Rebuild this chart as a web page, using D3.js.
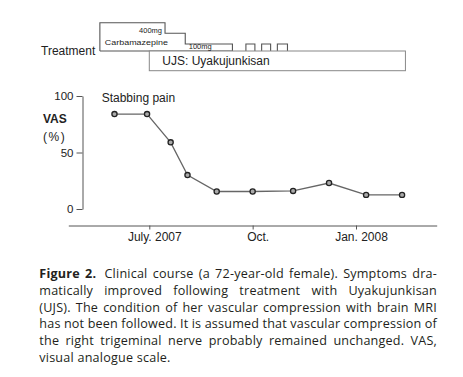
<!DOCTYPE html>
<html>
<head>
<meta charset="utf-8">
<script src="https://cdnjs.cloudflare.com/ajax/libs/d3/7.8.5/d3.min.js"></script>
<style>
body{margin:0;background:#fff;}
</style>
</head>
<body>
<svg id="chart"></svg>
<script>
let parse = d3.timeParse('%Y-%m-%d')

// VAS course
let dates = ['2007-05-31','2007-06-29','2007-07-20','2007-08-04','2007-08-30','2007-10-01','2007-11-06','2007-12-08','2008-01-10','2008-02-11']
let vas = [84, 84, 59, 30, 15.5, 15.5, 16, 23, 12.5, 12.5]
let tickDates = ['2007-07-01','2007-10-01','2008-01-01']
let tickLabels = ['July. 2007','Oct.','Jan. 2008']
let yTicks = [0, 50, 100]

// treatment
let cbzStarts = ['2007-05-18','2007-07-15','2007-08-02']
let cbzEnds = ['2007-07-15','2007-08-02','2007-09-13']
let cbzDose = [400, 250, 100]
let extraStarts = ['2007-09-25','2007-10-09','2007-10-23']
let extraEnds = ['2007-10-03','2007-10-17','2007-11-01']
let extraDose = [100, 100, 100]
let ujsPeriod = ['2007-07-01','2008-02-14']

let captionBold = 'Figure 2.'
let captionLines = [
  'Figure 2. Clinical course (a 72-year-old female). Symptoms dra-',
  'matically improved following treatment with Uyakujunkisan',
  '(UJS). The condition of her vascular compression with brain MRI',
  'has not been followed. It is assumed that vascular compression of',
  'the right trigeminal nerve probably remained unchanged. VAS,',
  'visual analogue scale.'
]

let width = 463
let height = 377
let svg = d3.select('#chart').attr('width', width).attr('height', height)
let font = '"Liberation Sans", Arial, sans-serif'

let xScale = d3.scaleTime()
  .domain([parse('2007-07-01'), parse('2008-01-01')])
  .range([149.3, 356])
let yScale = d3.scaleLinear().domain([0, 100]).range([209, 96])
let doseScale = d3.scaleLinear().domain([0, 400]).range([51, 22.7])
let base = doseScale(0)

// ---- treatment panel ----
let cbzPts = [[xScale(parse(cbzStarts[0])), base]]
cbzDose.forEach((d, i) => {
  cbzPts.push([xScale(parse(cbzStarts[i])), doseScale(d)])
  cbzPts.push([xScale(parse(cbzEnds[i])), doseScale(d)])
})
cbzPts.push([xScale(parse(cbzEnds[cbzEnds.length - 1])), base])
cbzPts.push(cbzPts[0])

svg.append('path')
  .attr('d', d3.line()(cbzPts))
  .attr('fill', 'none')
  .attr('stroke', '#555')
  .attr('stroke-width', 1.1)

svg.selectAll('.extra')
  .data(extraStarts)
  .enter()
  .append('path')
  .attr('class', 'extra')
  .attr('d', (s, i) => {
    let x1 = xScale(parse(s)), x2 = xScale(parse(extraEnds[i]))
    return d3.line()([[x1, base], [x1, doseScale(extraDose[i])], [x2, doseScale(extraDose[i])], [x2, base]])
  })
  .attr('fill', 'none')
  .attr('stroke', '#555')
  .attr('stroke-width', 1.1)

let ujsX0 = xScale(parse(ujsPeriod[0]))
let ujsX1 = xScale(parse(ujsPeriod[1]))
svg.append('rect')
  .attr('x', ujsX0)
  .attr('y', base)
  .attr('width', ujsX1 - ujsX0)
  .attr('height', 19.7)
  .attr('fill', '#fff')
  .attr('stroke', '#888')
  .attr('stroke-width', 1)

svg.append('text')
  .attr('x', ujsX0 + 13)
  .attr('y', base + 14)
  .attr('font-family', font)
  .attr('font-size', 12)
  .attr('fill', '#222')
  .text('UJS: Uyakujunkisan')

svg.append('text')
  .attr('x', 41)
  .attr('y', 55)
  .attr('font-family', font)
  .attr('font-size', 12)
  .attr('fill', '#222')
  .text('Treatment')

svg.append('text')
  .attr('x', xScale(parse(cbzEnds[0])) - 3)
  .attr('y', doseScale(cbzDose[0]) + 10.5)
  .attr('text-anchor', 'end')
  .attr('font-family', font)
  .attr('font-size', 7.5)
  .attr('fill', '#222')
  .text(cbzDose[0] + 'mg')

svg.append('text')
  .attr('x', xScale(parse(cbzStarts[0])) + 5)
  .attr('y', 44.7)
  .attr('font-family', font)
  .attr('font-size', 7)
  .attr('textLength', 63)
  .attr('lengthAdjust', 'spacingAndGlyphs')
  .attr('fill', '#222')
  .text('Carbamazepine')

svg.append('text')
  .attr('x', xScale(parse(cbzStarts[2])) + 3.5)
  .attr('y', 49.3)
  .attr('font-family', font)
  .attr('font-size', 7.5)
  .attr('fill', '#222')
  .text(cbzDose[2] + 'mg')

// ---- VAS chart ----
let xAxisScale = xScale.copy()
  .domain([xScale.invert(68.3), xScale.invert(436.7)])
  .range([68.3, 436.7])
let xAxis = d3.axisBottom(xAxisScale)
  .tickValues(tickDates.map(parse))
  .tickFormat((d, i) => tickLabels[i])
  .tickSize(4)
  .tickSizeOuter(0)
let gx = svg.append('g')
  .attr('transform', 'translate(0,225.5)')
  .call(xAxis)
gx.selectAll('text').attr('dx', 5).attr('font-size', 12).attr('font-family', font).attr('fill', '#222')
gx.selectAll('path,line').attr('stroke', '#555')

let yAxis = d3.axisLeft(yScale)
  .tickValues(yTicks)
  .tickSize(6)
  .tickSizeOuter(0)
let gy = svg.append('g')
  .attr('transform', 'translate(82.5,0)')
  .call(yAxis)
gy.selectAll('text').attr('font-size', 11.5).attr('font-family', font).attr('fill', '#222')
gy.selectAll('path,line').attr('stroke', '#555')

svg.append('text')
  .attr('x', 43)
  .attr('y', 122.5)
  .attr('font-family', font)
  .attr('font-size', 12)
  .attr('font-weight', 'bold')
  .attr('fill', '#222')
  .text('VAS')
svg.append('text')
  .attr('x', 43)
  .attr('y', 141)
  .attr('font-family', font)
  .attr('font-size', 12)
  .attr('letter-spacing', 1.5)
  .attr('fill', '#222')
  .text('(%)')

svg.append('text')
  .attr('x', 101.7)
  .attr('y', 101.5)
  .attr('font-family', font)
  .attr('font-size', 12)
  .attr('fill', '#222')
  .text('Stabbing pain')

let points = dates.map((d, i) => ({date: parse(d), value: vas[i]}))

svg.append('path')
  .datum(points)
  .attr('d', d3.line().x(d => xScale(d.date)).y(d => yScale(d.value)))
  .attr('fill', 'none')
  .attr('stroke', '#666')
  .attr('stroke-width', 1.3)

svg.selectAll('.dot')
  .data(points)
  .enter()
  .append('circle')
  .attr('class', 'dot')
  .attr('cx', d => xScale(d.date))
  .attr('cy', d => yScale(d.value))
  .attr('r', 2.6)
  .attr('fill', '#aaa')
  .attr('stroke', '#222')
  .attr('stroke-width', 1.3)

// ---- caption, justified word by word ----
let capLeft = 39.3, capRight = 437, capTop = 277.7, capLead = 16.9
captionLines.forEach((line, i) => {
  let words = line.split(' ')
  let nBold = i === 0 ? captionBold.split(' ').length : 0
  let g = svg.append('text')
    .attr('y', capTop + i * capLead)
    .attr('font-family', '"Open Sans", "Noto Sans", sans-serif')
    .attr('font-size', 12.6)
    .attr('letter-spacing', 0.2)
    .attr('fill', '#231f20')
  let spans = words.map((w, j) => g.append('tspan')
    .attr('font-weight', j < nBold ? 'bold' : 'normal')
    .text(w))
  let widths = spans.map(s => s.node().getComputedTextLength())
  let total = d3.sum(widths)
  let last = i === captionLines.length - 1
  let gap = last ? 3.6 : (capRight - capLeft - total) / (words.length - 1)
  if (i === 0) gap = (capRight - capLeft - total - 3) / (words.length - 1)
  let x = capLeft
  spans.forEach((s, j) => {
    s.attr('x', x)
    x += widths[j] + gap + (i === 0 && j === nBold - 1 ? 3 : 0)
  })
})
</script>
</body>
</html>
